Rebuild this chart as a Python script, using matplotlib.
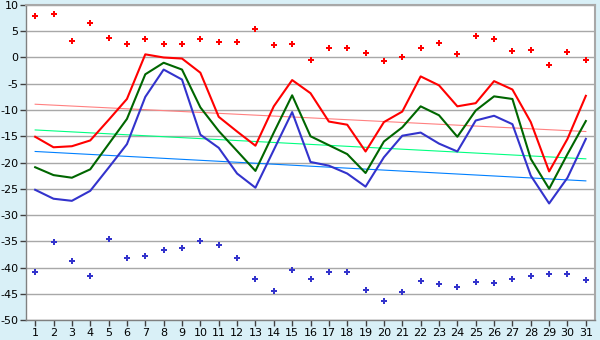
import matplotlib
matplotlib.use("Agg")
import matplotlib.pyplot as plt

plt.rcParams["axes.unicode_minus"] = False

# daily values
days = list(range(1, 32))

red_line = [-15.1, -17.1, -16.9, -15.8, -11.9, -7.9, 0.6, 0.0, -0.2, -2.9,
            -11.3, -14.1, -16.8, -9.3, -4.3, -6.8, -12.2, -12.8, -17.9, -12.3,
            -10.3, -3.6, -5.3, -9.3, -8.7, -4.5, -6.1, -12.3, -21.7, -15.5, -7.3]
green_line = [-20.9, -22.4, -22.9, -21.3, -16.5, -11.7, -3.2, -1.0, -2.3, -9.5,
              -14.0, -17.8, -21.6, -14.3, -7.2, -15.0, -16.7, -18.4, -22.0, -16.0,
              -13.3, -9.3, -11.0, -15.1, -10.1, -7.4, -7.9, -19.3, -25.0, -18.4, -12.1]
blue_line = [-25.2, -26.9, -27.3, -25.4, -21.0, -16.5, -7.5, -2.3, -4.2, -14.7,
             -17.2, -22.1, -24.8, -17.6, -10.4, -19.9, -20.6, -22.1, -24.6, -19.0,
             -14.9, -14.3, -16.4, -17.9, -12.0, -11.1, -12.7, -22.5, -27.8, -22.9, -15.5]

red_points = [7.9, 8.2, 3.1, 6.5, 3.8, 2.6, 3.5, 2.6, 2.6, 3.5,
              2.9, 2.9, 5.4, 2.3, 2.6, -0.4, 1.8, 1.9, 0.8, -0.7,
              0.0, 1.8, 2.7, 0.7, 4.1, 3.6, 1.2, 1.4, -1.5, 1.0, -0.4]
blue_points = [-40.9, -35.2, -38.8, -41.7, -34.6, -38.1, -37.9, -36.7, -36.2, -35.0,
               -35.8, -38.1, -42.2, -44.5, -40.5, -42.1, -40.9, -40.9, -44.3, -46.4,
               -44.7, -42.6, -43.2, -43.8, -42.8, -43.0, -42.2, -41.7, -41.3, -41.3, -42.4]

# trend lines: value at day 1 and day 31
trend_days = [1, 31]
red_trend = [-8.9, -14.1]
green_trend = [-13.8, -19.3]
blue_trend = [-17.9, -23.5]

fig = plt.figure(figsize=(6, 3.4), dpi=100, facecolor="#d9f0f7")
ax = fig.add_axes([0.0433, 0.0588, 0.9484, 0.9265])
ax.set_facecolor("white")

ax.plot(trend_days, red_trend, color="#ff8080", lw=0.8)
ax.plot(trend_days, green_trend, color="#00ff80", lw=0.8)
ax.plot(trend_days, blue_trend, color="#0080ff", lw=0.8)

ax.plot(days, red_line, color="#ff0000", lw=1.5)
ax.plot(days, green_line, color="#006600", lw=1.5)
ax.plot(days, blue_line, color="#3333cc", lw=1.5)

ax.plot(days, red_points, ls="none", marker="P", ms=4, color="#ff0000", mew=0)
ax.plot(days, blue_points, ls="none", marker="P", ms=4, color="#3333cc", mew=0)

ax.set_xlim(0.5, 31.5)
ax.set_ylim(-50, 10)
ax.set_xticks(days)
ax.set_yticks(range(-50, 11, 5))
ax.yaxis.grid(True, color="#a8a8a8", lw=1)
ax.set_axisbelow(True)

for side in ["top", "right"]:
    ax.spines[side].set_color("#a8a8a8")
    ax.spines[side].set_linewidth(1.5)
for side in ["left", "bottom"]:
    ax.spines[side].set_color("#808080")
    ax.spines[side].set_linewidth(1)

ax.tick_params(axis="both", labelsize=8, color="#404040", length=4, width=1, pad=1.5)

fig.savefig("out.png", dpi=100, facecolor=fig.get_facecolor())
